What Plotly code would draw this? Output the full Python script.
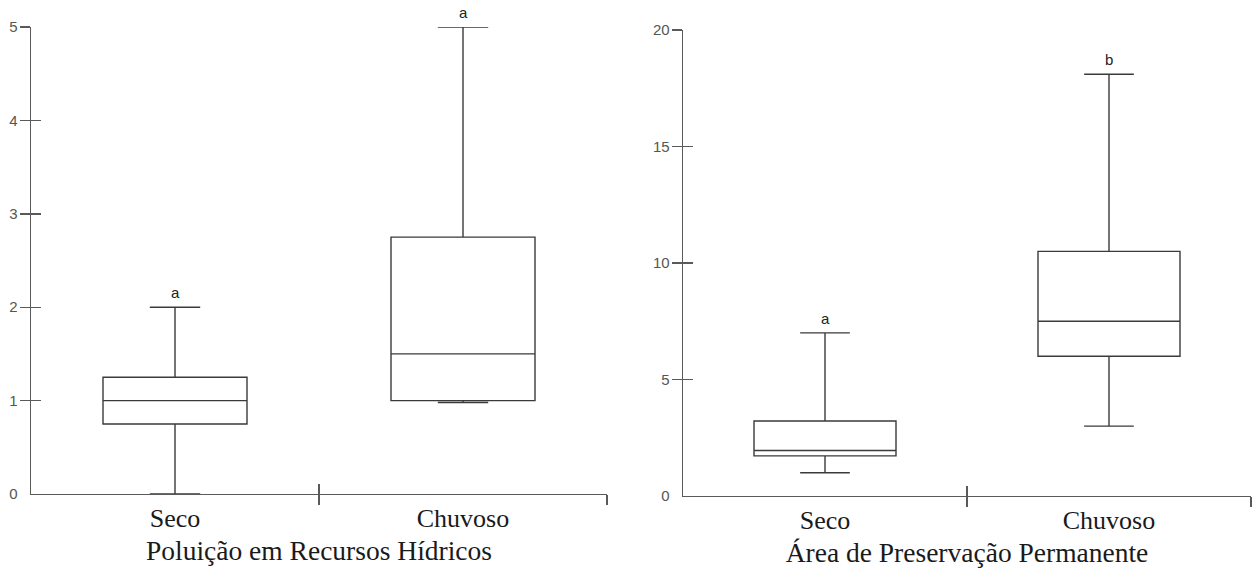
import plotly.graph_objects as go

# ---------------- data ----------------
categories = ["Seco", "Chuvoso"]

# Panel 1: Poluição em Recursos Hídricos
p1_title = "Poluição em Recursos Hídricos"
p1_lower = [0.0, 0.98]
p1_q1 = [0.75, 1.0]
p1_median = [1.0, 1.5]
p1_q3 = [1.25, 2.75]
p1_upper = [2.0, 5.0]
p1_letters = ["a", "a"]
p1_ticks = [0, 1, 2, 3, 4, 5]

# Panel 2: Área de Preservação Permanente
p2_title = "Área de Preservação Permanente"
p2_lower = [1.0, 3.0]
p2_q1 = [1.72, 6.0]
p2_median = [1.95, 7.5]
p2_q3 = [3.22, 10.5]
p2_upper = [7.0, 18.1]
p2_letters = ["a", "b"]
p2_ticks = [0, 5, 10, 15, 20]

# ---------------- style ----------------
W, H = 1253, 571
BOX_COL = "#3a3a3a"
AX_COL = "#5a5a5a"
SERIF = "Liberation Serif, Times New Roman, serif"
SANS = "Liberation Sans, Arial, sans-serif"


def fx(px):
    return px / W


def fy(py):
    return 1 - py / H


fig = go.Figure()


def add_panel(xa, ya, lower, q1, med, q3, upper, letters):
    fig.add_trace(go.Box(
        x=categories, q1=q1, median=med, q3=q3,
        lowerfence=lower, upperfence=upper,
        width=0.5, whiskerwidth=0.35,
        fillcolor="white", line=dict(color=BOX_COL, width=1.4),
        boxpoints=False, showlegend=False, hoverinfo="skip",
        xaxis=xa, yaxis=ya,
    ))
    for c, u, t in zip(categories, upper, letters):
        fig.add_annotation(
            x=c, y=u, xref=xa, yref=ya, text=t, showarrow=False,
            yanchor="bottom", yshift=4,
            font=dict(family=SANS, size=15, color="#222222"),
        )


add_panel("x", "y", p1_lower, p1_q1, p1_median, p1_q3, p1_upper, p1_letters)
add_panel("x2", "y2", p2_lower, p2_q1, p2_median, p2_q3, p2_upper, p2_letters)

# empty traces so the overlay (tick-mark) axes are drawn
for k in range(3, 7):
    fig.add_trace(go.Scatter(x=[], y=[], xaxis=f"x{k}", yaxis=f"y{k}",
                             showlegend=False, hoverinfo="skip"))

dom_x1 = [fx(31), fx(607)]
dom_y1 = [fy(494), fy(27)]
dom_x2 = [fx(683), fx(1251)]
dom_y2 = [fy(496), fy(30)]

main_x = dict(type="category", range=[-0.5, 1.5], showline=True,
              linecolor=AX_COL, linewidth=1.4, ticks="", showgrid=False,
              zeroline=False, automargin=False, ticklabelstandoff=0,
              tickfont=dict(family=SERIF, size=26, color="#1a1a1a"),
              title=dict(font=dict(family=SERIF, size=27.5, color="#1a1a1a"),
                         standoff=9))
main_y = dict(showline=True, linecolor=AX_COL, linewidth=1.4, ticks="",
              showgrid=False, zeroline=False, automargin=False,
              tickmode="array", ticklabelstandoff=9,
              tickfont=dict(family=SANS, size=15, color="#555555"))

n1 = len(categories)
bounds = [i + 0.5 for i in range(n1)]


def tick_x(over, anchor, side_ticks):
    return dict(overlaying=over, anchor=anchor, type="linear",
                range=[-0.5, n1 - 0.5], tickmode="array", tickvals=bounds,
                ticks=side_ticks, ticklen=10, tickwidth=1.4, tickcolor=AX_COL,
                showticklabels=False, showline=False, showgrid=False,
                zeroline=False, automargin=False)


def tick_y(over, anchor, rng, vals, side_ticks):
    return dict(overlaying=over, anchor=anchor, range=rng, tickmode="array",
                tickvals=vals, ticks=side_ticks, ticklen=10, tickwidth=1.4,
                tickcolor=AX_COL, showticklabels=False, showline=False,
                showgrid=False, zeroline=False, automargin=False)


r1 = [p1_ticks[0], p1_ticks[-1]]
r2 = [p2_ticks[0], p2_ticks[-1]]

fig.update_layout(
    width=W, height=H,
    margin=dict(l=0, r=0, t=0, b=0),
    paper_bgcolor="white", plot_bgcolor="white",
    showlegend=False,
    xaxis=dict(main_x, domain=dom_x1, anchor="y",
               title=dict(main_x["title"], text=p1_title)),
    yaxis=dict(main_y, domain=dom_y1, anchor="x", range=r1, tickvals=p1_ticks),
    xaxis2=dict(main_x, domain=dom_x2, anchor="y2",
                title=dict(main_x["title"], text=p2_title)),
    yaxis2=dict(main_y, domain=dom_y2, anchor="x2", range=r2, tickvals=p2_ticks),
    xaxis3=tick_x("x", "y", "outside"),
    xaxis4=tick_x("x", "y", "inside"),
    xaxis5=tick_x("x2", "y2", "outside"),
    xaxis6=tick_x("x2", "y2", "inside"),
    yaxis3=tick_y("y", "x", r1, p1_ticks[1:], "outside"),
    yaxis4=tick_y("y", "x", r1, p1_ticks[1:], "inside"),
    yaxis5=tick_y("y2", "x2", r2, p2_ticks[1:], "outside"),
    yaxis6=tick_y("y2", "x2", r2, p2_ticks[1:], "inside"),
)

# remove the default page margin so the figure fills the window exactly
fig.write_html(
    "out.html",
    config={"displayModeBar": False, "staticPlot": True},
    post_script="document.body.style.margin='0';document.body.style.overflow='hidden';",
)
